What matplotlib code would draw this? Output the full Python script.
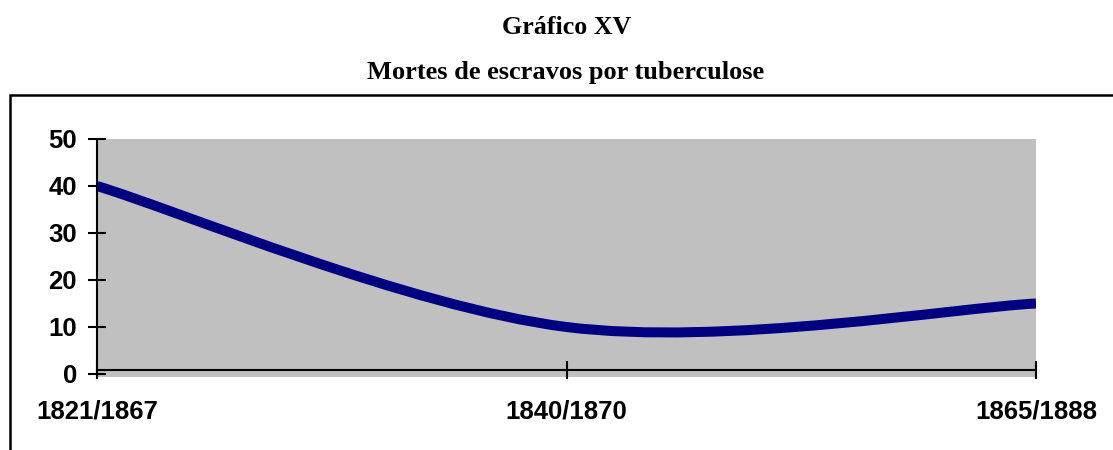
import matplotlib
matplotlib.use("Agg")
import matplotlib.pyplot as plt
from matplotlib.path import Path
from matplotlib.patches import PathPatch, Rectangle
import numpy as np

# Data
categories = ["1821/1867", "1840/1870", "1865/1888"]
deaths = [40, 10, 15]
yticks = [0, 10, 20, 30, 40, 50]
title = "Gráfico XV"
subtitle = "Mortes de escravos por tuberculose"

W, H = 1113, 450
fig = plt.figure(figsize=(W / 100, H / 100), dpi=100)

# axes placement in pixels
left_px, right_px, top_px, bottom_px = 97, 1036, 139, 377
ax = fig.add_axes([left_px / W, 1 - bottom_px / H,
                   (right_px - left_px) / W, (bottom_px - top_px) / H])
ax.set_facecolor("#C0C0C0")

x = np.arange(len(categories), dtype=float)
y = np.array(deaths, dtype=float)

# Excel-style smoothed line (cubic Bezier, Catmull-Rom control points)
pts = np.column_stack([x, y])
ext = np.vstack([pts[0], pts, pts[-1]])
verts = [tuple(pts[0])]
codes = [Path.MOVETO]
for i in range(len(pts) - 1):
    p_prev, p0, p1, p_next = ext[i], ext[i + 1], ext[i + 2], ext[i + 3]
    c1 = p0 + (p1 - p_prev) / 6.0
    c2 = p1 - (p_next - p0) / 6.0
    verts += [tuple(c1), tuple(c2), tuple(p1)]
    codes += [Path.CURVE4] * 3
ax.add_patch(PathPatch(Path(verts, codes), facecolor="none",
                       edgecolor="#000080", lw=7.2, capstyle="butt",
                       joinstyle="round", zorder=3))

ax.set_xlim(0, len(categories) - 1)
ax.set_ylim(-0.64, 50)

for s in ["top", "right"]:
    ax.spines[s].set_visible(False)
ax.spines["left"].set_bounds(0, 50)
ax.spines["bottom"].set_position(("data", 0.85))
ax.spines["left"].set_linewidth(1.5)
ax.spines["bottom"].set_linewidth(1.5)

ax.set_yticks(yticks)
ax.set_yticklabels([str(v) for v in yticks])
ax.set_xticks(x)
ax.set_xticklabels(categories)

ax.tick_params(axis="y", direction="inout", length=13, width=1.5, pad=8)
ax.tick_params(axis="x", direction="inout", length=13, width=1.5, pad=15)
for lab in ax.get_xticklabels() + ax.get_yticklabels():
    lab.set_fontfamily("Liberation Sans")
    lab.set_fontweight("bold")
    lab.set_fontsize(18.5)

# titles
fig.text(567 / W, 1 - 27 / H, title, ha="center", va="center",
         family="Liberation Serif", fontweight="bold", fontsize=18.7)
fig.text(566 / W, 1 - 72 / H, subtitle, ha="center", va="center",
         family="Liberation Serif", fontweight="bold", fontsize=19)

# outer frame
fig.add_artist(Rectangle((10 / W, -0.1), 1.2, 1 - 95 / H + 0.1,
                         transform=fig.transFigure, fill=False,
                         edgecolor="black", lw=1.8))

fig.savefig("out.png", dpi=100)
